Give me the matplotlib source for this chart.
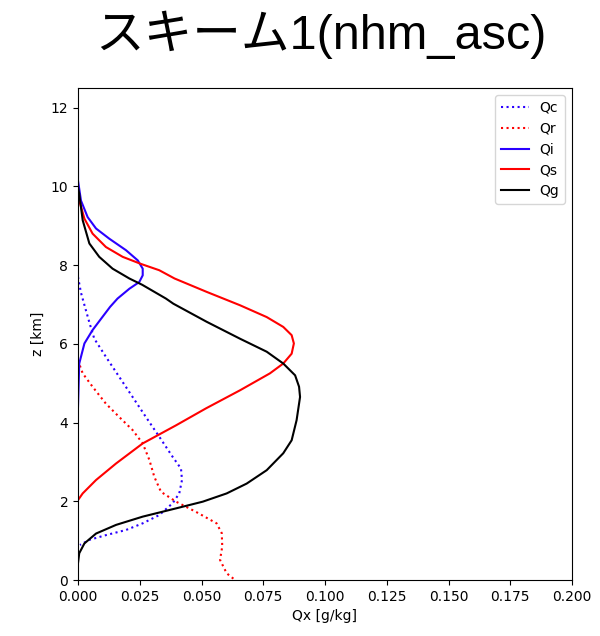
import numpy as np
from matplotlib import pyplot as plt

# values (x in g/kg, z in km)
qc_x = [0.0, 0.0012, 0.0028, 0.0048, 0.0066, 0.0113, 0.0167, 0.0221, 0.0275, 0.0329, 0.0383, 0.0417, 0.0421,
        0.041, 0.0383, 0.0329, 0.0262, 0.0194, 0.0113, 0.0046, 0.0008]
qc_z = [7.7, 7.3, 6.94, 6.5, 6.13, 5.67, 5.16, 4.65, 4.14, 3.64, 3.13, 2.83, 2.54,
        2.2, 1.95, 1.65, 1.44, 1.27, 1.14, 1.02, 0.89]

qr_x = [0.0, 0.0019, 0.0059, 0.0113, 0.0167, 0.0221, 0.0262, 0.0289, 0.0309, 0.0336, 0.0397, 0.0478,
        0.0561, 0.0582, 0.0584, 0.0575, 0.0602, 0.0636]
qr_z = [5.58, 5.25, 4.91, 4.48, 4.14, 3.81, 3.47, 3.05, 2.62, 2.24, 1.99, 1.73,
        1.44, 1.19, 0.85, 0.51, 0.17, 0.0]

qi_x = [0.0, 0.0, 0.0012, 0.0039, 0.0073, 0.0127, 0.0194, 0.0242, 0.0262, 0.0262, 0.0248, 0.0208,
        0.016, 0.013, 0.0095, 0.0059, 0.0026, 0.0005, 0.0]
qi_z = [10.95, 10.15, 9.64, 9.22, 8.93, 8.67, 8.38, 8.12, 7.91, 7.74, 7.57, 7.4,
        7.15, 6.94, 6.65, 6.35, 6.01, 5.5, 4.4]

qs_x = [0.0, 0.0005, 0.0026, 0.0059, 0.0113, 0.0181, 0.0255, 0.0329, 0.0391, 0.0521, 0.0656, 0.0764,
        0.0831, 0.0865, 0.0874, 0.0865, 0.0831, 0.0777, 0.0656, 0.0518, 0.0397, 0.0262, 0.0154,
        0.0073, 0.0019, 0.0]
qs_z = [9.85, 9.64, 9.18, 8.8, 8.46, 8.21, 8.03, 7.87, 7.66, 7.32, 6.98, 6.68,
        6.43, 6.22, 6.01, 5.75, 5.5, 5.25, 4.82, 4.36, 3.93, 3.47, 2.96,
        2.54, 2.2, 2.03]

qg_x = [0.0, 0.0005, 0.0019, 0.0046, 0.0086, 0.014, 0.0208, 0.026, 0.0356, 0.0386, 0.0521, 0.0656,
        0.0764, 0.0831, 0.0879, 0.0895, 0.0899, 0.0885, 0.0865, 0.0831, 0.0764, 0.0683, 0.0602,
        0.0505, 0.0397, 0.0262, 0.0154, 0.0073, 0.0026, 0.0005, 0.0]
qg_z = [9.98, 9.81, 9.14, 8.55, 8.21, 7.91, 7.66, 7.5, 7.15, 7.02, 6.56, 6.13,
        5.8, 5.5, 5.2, 4.91, 4.65, 4.06, 3.55, 3.22, 2.79, 2.45, 2.2,
        1.99, 1.82, 1.61, 1.4, 1.18, 0.93, 0.68, 0.43]

blue = '#2a00ff'
series = [('Qc', qc_x, qc_z, blue, ':'),
          ('Qr', qr_x, qr_z, 'red', ':'),
          ('Qi', qi_x, qi_z, blue, '-'),
          ('Qs', qs_x, qs_z, 'red', '-'),
          ('Qg', qg_x, qg_z, 'black', '-')]


def main():
    fig = plt.figure(figsize=[6, 6.36], dpi=100)
    fig.patch.set_facecolor("w")
    ax = fig.add_axes([78/600, 56/636, 494/600, 492/636])

    for name, x, z, c, ls in series:
        ax.plot(x, z, c=c, ls=ls, lw=1.5, label=name)

    ticks = np.arange(0, 0.2001, 0.025)
    ax.set_xlim(0, 0.2)
    ax.set_ylim(0, 12.5)
    ax.set_xticks(ticks)
    ax.set_xticklabels(['%.3f' % v for v in ticks])
    ax.set_yticks(range(0, 13, 2))
    ax.set_xlabel('Qx [g/kg]')
    ax.set_ylabel('z [km]')
    ax.legend(loc='upper right')

    fig.text(321/600, 1 - 35/636, 'スキーム1(nhm_asc)', size=35, ha='center', va='center',
             family=['Liberation Sans', 'Noto Sans CJK JP'])

    plt.savefig('out.png')


if __name__ == '__main__':
    main()
